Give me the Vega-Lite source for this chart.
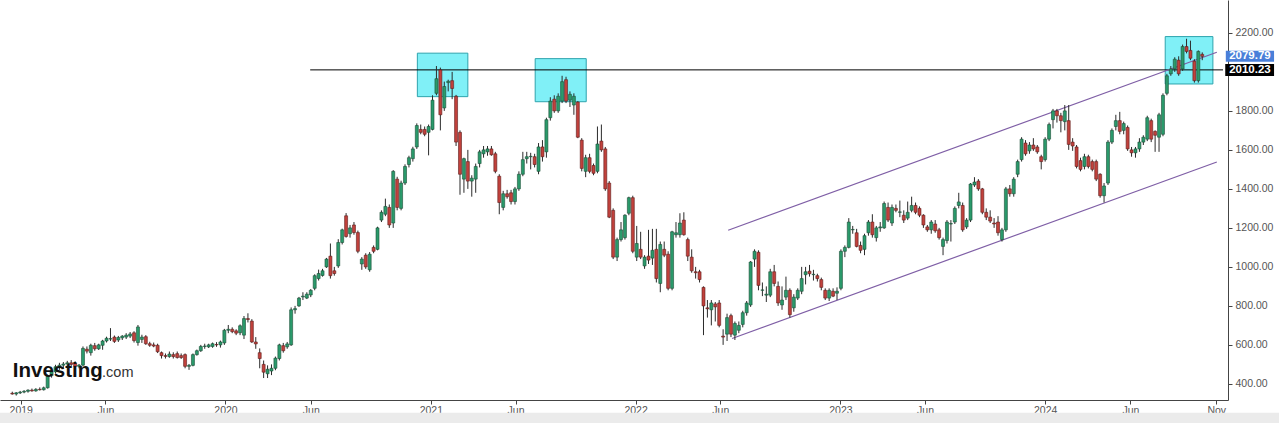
{
"$schema":"https://vega.github.io/schema/vega-lite/v6.json",
"width":1228,"height":400,"padding":{"left":0,"top":0,"right":51,"bottom":23},"autosize":{"type":"none"},"background":"white",
"config":{"view":{"stroke":null},"font":"Liberation Sans","axis":{"grid":false,"zindex":1,"labelFont":"Liberation Sans","labelFontSize":10.5,"labelColor":"#555","domainColor":"#444","tickColor":"#444","tickSize":4,"labelPadding":3,"labelOverlap":false},"axisX":{"labelPadding":1}},
"datasets":{
"candles":[
{"d":"2018-12-17","o":352,"h":360,"l":345,"c":348},
{"d":"2018-12-24","o":348,"h":358,"l":340,"c":354},
{"d":"2018-12-31","o":354,"h":364,"l":348,"c":358},
{"d":"2019-01-07","o":358,"h":368,"l":352,"c":362},
{"d":"2019-01-14","o":362,"h":372,"l":355,"c":368},
{"d":"2019-01-21","o":368,"h":376,"l":360,"c":364},
{"d":"2019-01-28","o":364,"h":378,"l":360,"c":372},
{"d":"2019-02-04","o":372,"h":382,"l":366,"c":370},
{"d":"2019-02-11","o":370,"h":386,"l":366,"c":380},
{"d":"2019-02-18","o":380,"h":448,"l":376,"c":442},
{"d":"2019-02-25","o":442,"h":472,"l":432,"c":462},
{"d":"2019-03-04","o":462,"h":498,"l":452,"c":488},
{"d":"2019-03-11","o":488,"h":508,"l":472,"c":496},
{"d":"2019-03-18","o":496,"h":512,"l":480,"c":502},
{"d":"2019-03-25","o":502,"h":518,"l":486,"c":508},
{"d":"2019-04-01","o":508,"h":522,"l":492,"c":500},
{"d":"2019-04-08","o":506,"h":516,"l":482,"c":490},
{"d":"2019-04-15","o":490,"h":502,"l":480,"c":496},
{"d":"2019-04-22","o":496,"h":592,"l":490,"c":582},
{"d":"2019-04-29","o":578,"h":592,"l":556,"c":568},
{"d":"2019-05-06","o":560,"h":606,"l":545,"c":598},
{"d":"2019-05-13","o":596,"h":610,"l":570,"c":580},
{"d":"2019-05-20","o":580,"h":606,"l":574,"c":600},
{"d":"2019-05-27","o":598,"h":626,"l":575,"c":620},
{"d":"2019-06-03","o":620,"h":642,"l":612,"c":634},
{"d":"2019-06-10","o":630,"h":686,"l":620,"c":632},
{"d":"2019-06-17","o":640,"h":648,"l":610,"c":618},
{"d":"2019-06-24","o":625,"h":646,"l":615,"c":638},
{"d":"2019-07-01","o":636,"h":650,"l":625,"c":645},
{"d":"2019-07-08","o":640,"h":660,"l":630,"c":650},
{"d":"2019-07-15","o":645,"h":666,"l":635,"c":656},
{"d":"2019-07-22","o":662,"h":670,"l":612,"c":622},
{"d":"2019-07-29","o":612,"h":702,"l":596,"c":692},
{"d":"2019-08-05","o":628,"h":652,"l":610,"c":640},
{"d":"2019-08-12","o":642,"h":650,"l":600,"c":606},
{"d":"2019-08-19","o":606,"h":616,"l":590,"c":598},
{"d":"2019-08-26","o":600,"h":612,"l":588,"c":594},
{"d":"2019-09-02","o":598,"h":606,"l":558,"c":565},
{"d":"2019-09-09","o":560,"h":566,"l":530,"c":545},
{"d":"2019-09-16","o":545,"h":556,"l":530,"c":541},
{"d":"2019-09-23","o":540,"h":566,"l":534,"c":553},
{"d":"2019-09-30","o":550,"h":562,"l":530,"c":540},
{"d":"2019-10-07","o":555,"h":566,"l":530,"c":535},
{"d":"2019-10-14","o":545,"h":556,"l":528,"c":535},
{"d":"2019-10-21","o":550,"h":556,"l":480,"c":490},
{"d":"2019-10-28","o":490,"h":502,"l":472,"c":495},
{"d":"2019-11-04","o":495,"h":556,"l":490,"c":550},
{"d":"2019-11-11","o":550,"h":576,"l":545,"c":570},
{"d":"2019-11-18","o":570,"h":600,"l":564,"c":592},
{"d":"2019-11-25","o":592,"h":606,"l":580,"c":594},
{"d":"2019-12-02","o":590,"h":606,"l":584,"c":600},
{"d":"2019-12-09","o":592,"h":612,"l":585,"c":606},
{"d":"2019-12-16","o":602,"h":614,"l":590,"c":600},
{"d":"2019-12-23","o":600,"h":622,"l":586,"c":615},
{"d":"2019-12-30","o":610,"h":682,"l":600,"c":675},
{"d":"2020-01-06","o":675,"h":702,"l":660,"c":680},
{"d":"2020-01-13","o":680,"h":690,"l":660,"c":668},
{"d":"2020-01-20","o":672,"h":680,"l":650,"c":660},
{"d":"2020-01-27","o":662,"h":705,"l":650,"c":698},
{"d":"2020-02-03","o":650,"h":748,"l":630,"c":735},
{"d":"2020-02-10","o":735,"h":762,"l":715,"c":730},
{"d":"2020-02-17","o":722,"h":732,"l":610,"c":615},
{"d":"2020-02-24","o":615,"h":640,"l":580,"c":605},
{"d":"2020-03-02","o":560,"h":582,"l":480,"c":530},
{"d":"2020-03-09","o":500,"h":520,"l":430,"c":460},
{"d":"2020-03-16","o":452,"h":495,"l":430,"c":475},
{"d":"2020-03-23","o":466,"h":500,"l":445,"c":480},
{"d":"2020-03-30","o":480,"h":540,"l":470,"c":532},
{"d":"2020-04-06","o":530,"h":606,"l":520,"c":600},
{"d":"2020-04-13","o":596,"h":610,"l":560,"c":570},
{"d":"2020-04-20","o":590,"h":615,"l":580,"c":605},
{"d":"2020-04-27","o":600,"h":792,"l":595,"c":780},
{"d":"2020-05-04","o":780,"h":800,"l":760,"c":786},
{"d":"2020-05-11","o":800,"h":846,"l":795,"c":840},
{"d":"2020-05-18","o":846,"h":870,"l":830,"c":850},
{"d":"2020-05-25","o":840,"h":870,"l":835,"c":860},
{"d":"2020-06-01","o":856,"h":886,"l":845,"c":880},
{"d":"2020-06-08","o":890,"h":962,"l":880,"c":955},
{"d":"2020-06-15","o":940,"h":986,"l":930,"c":966},
{"d":"2020-06-22","o":956,"h":990,"l":950,"c":980},
{"d":"2020-06-29","o":1000,"h":1046,"l":995,"c":1040},
{"d":"2020-07-06","o":1055,"h":1120,"l":940,"c":955},
{"d":"2020-07-13","o":980,"h":1000,"l":955,"c":966},
{"d":"2020-07-20","o":1005,"h":1142,"l":995,"c":1125},
{"d":"2020-07-27","o":1125,"h":1196,"l":1115,"c":1190},
{"d":"2020-08-03","o":1262,"h":1276,"l":1150,"c":1156},
{"d":"2020-08-10","o":1170,"h":1215,"l":1150,"c":1200},
{"d":"2020-08-17","o":1215,"h":1230,"l":1165,"c":1176},
{"d":"2020-08-24","o":1176,"h":1186,"l":1070,"c":1080},
{"d":"2020-08-31","o":1015,"h":1050,"l":985,"c":1040},
{"d":"2020-09-07","o":1060,"h":1070,"l":990,"c":1000},
{"d":"2020-09-14","o":985,"h":1076,"l":975,"c":1065},
{"d":"2020-09-21","o":1100,"h":1110,"l":1070,"c":1080},
{"d":"2020-09-28","o":1090,"h":1206,"l":1085,"c":1200},
{"d":"2020-10-05","o":1240,"h":1290,"l":1230,"c":1280},
{"d":"2020-10-12","o":1270,"h":1350,"l":1260,"c":1310},
{"d":"2020-10-19","o":1305,"h":1320,"l":1200,"c":1215},
{"d":"2020-10-26","o":1225,"h":1496,"l":1200,"c":1490},
{"d":"2020-11-02","o":1450,"h":1462,"l":1290,"c":1305},
{"d":"2020-11-09","o":1300,"h":1442,"l":1290,"c":1430},
{"d":"2020-11-16","o":1430,"h":1526,"l":1420,"c":1515},
{"d":"2020-11-23","o":1525,"h":1570,"l":1510,"c":1560},
{"d":"2020-11-30","o":1555,"h":1616,"l":1540,"c":1605},
{"d":"2020-12-07","o":1615,"h":1736,"l":1605,"c":1725},
{"d":"2020-12-14","o":1705,"h":1730,"l":1680,"c":1690},
{"d":"2020-12-21","o":1705,"h":1720,"l":1670,"c":1680},
{"d":"2020-12-28","o":1690,"h":1730,"l":1572,"c":1720},
{"d":"2021-01-04","o":1705,"h":1880,"l":1700,"c":1855},
{"d":"2021-01-11","o":1890,"h":2030,"l":1880,"c":1965},
{"d":"2021-01-18","o":2010,"h":2022,"l":1700,"c":1780},
{"d":"2021-01-25","o":1815,"h":1950,"l":1800,"c":1925},
{"d":"2021-02-01","o":1945,"h":1960,"l":1900,"c":1952},
{"d":"2021-02-08","o":1955,"h":2000,"l":1860,"c":1915},
{"d":"2021-02-15","o":1875,"h":1882,"l":1620,"c":1640},
{"d":"2021-02-22","o":1690,"h":1700,"l":1370,"c":1475},
{"d":"2021-03-01","o":1450,"h":1560,"l":1380,"c":1555},
{"d":"2021-03-08","o":1540,"h":1600,"l":1400,"c":1440},
{"d":"2021-03-15","o":1440,"h":1470,"l":1360,"c":1455},
{"d":"2021-03-22","o":1450,"h":1530,"l":1380,"c":1515},
{"d":"2021-03-29","o":1530,"h":1600,"l":1510,"c":1590},
{"d":"2021-04-05","o":1580,"h":1620,"l":1560,"c":1600},
{"d":"2021-04-12","o":1590,"h":1620,"l":1570,"c":1605},
{"d":"2021-04-19","o":1605,"h":1620,"l":1570,"c":1575},
{"d":"2021-04-26","o":1580,"h":1590,"l":1480,"c":1490},
{"d":"2021-05-03","o":1465,"h":1475,"l":1270,"c":1330},
{"d":"2021-05-10","o":1305,"h":1390,"l":1290,"c":1375},
{"d":"2021-05-17","o":1375,"h":1395,"l":1350,"c":1360},
{"d":"2021-05-24","o":1380,"h":1395,"l":1320,"c":1335},
{"d":"2021-05-31","o":1335,"h":1410,"l":1320,"c":1400},
{"d":"2021-06-07","o":1400,"h":1490,"l":1390,"c":1475},
{"d":"2021-06-14","o":1475,"h":1590,"l":1465,"c":1550},
{"d":"2021-06-21","o":1555,"h":1590,"l":1530,"c":1565},
{"d":"2021-06-28","o":1565,"h":1585,"l":1500,"c":1567},
{"d":"2021-07-05","o":1565,"h":1580,"l":1510,"c":1525},
{"d":"2021-07-12","o":1490,"h":1635,"l":1475,"c":1615},
{"d":"2021-07-19","o":1615,"h":1650,"l":1540,"c":1565},
{"d":"2021-07-26","o":1590,"h":1765,"l":1560,"c":1755},
{"d":"2021-08-02","o":1765,"h":1870,"l":1750,"c":1850},
{"d":"2021-08-09","o":1860,"h":1880,"l":1790,"c":1800},
{"d":"2021-08-16","o":1800,"h":1890,"l":1790,"c":1875},
{"d":"2021-08-23","o":1850,"h":1980,"l":1840,"c":1950},
{"d":"2021-08-30","o":1960,"h":1975,"l":1840,"c":1850},
{"d":"2021-09-06","o":1855,"h":1900,"l":1820,"c":1885},
{"d":"2021-09-13","o":1830,"h":1890,"l":1780,"c":1875},
{"d":"2021-09-20","o":1845,"h":1850,"l":1660,"c":1665},
{"d":"2021-09-27","o":1650,"h":1660,"l":1490,"c":1505},
{"d":"2021-10-04","o":1490,"h":1575,"l":1460,"c":1560},
{"d":"2021-10-11","o":1560,"h":1580,"l":1480,"c":1490},
{"d":"2021-10-18","o":1520,"h":1530,"l":1470,"c":1480},
{"d":"2021-10-25","o":1490,"h":1720,"l":1480,"c":1630},
{"d":"2021-11-01","o":1645,"h":1730,"l":1590,"c":1600},
{"d":"2021-11-08","o":1605,"h":1615,"l":1390,"c":1400},
{"d":"2021-11-15","o":1430,"h":1440,"l":1250,"c":1255},
{"d":"2021-11-22","o":1290,"h":1300,"l":1040,"c":1050},
{"d":"2021-11-29","o":1050,"h":1150,"l":1030,"c":1140},
{"d":"2021-12-06","o":1140,"h":1230,"l":1130,"c":1190},
{"d":"2021-12-13","o":1150,"h":1270,"l":1140,"c":1265},
{"d":"2021-12-20","o":1275,"h":1360,"l":1265,"c":1355},
{"d":"2021-12-27","o":1355,"h":1365,"l":1070,"c":1080},
{"d":"2022-01-03","o":1050,"h":1210,"l":1030,"c":1120},
{"d":"2022-01-10","o":1090,"h":1180,"l":1040,"c":1050},
{"d":"2022-01-17","o":1005,"h":1060,"l":990,"c":1050},
{"d":"2022-01-24","o":1055,"h":1190,"l":1015,"c":1035},
{"d":"2022-01-31","o":1045,"h":1195,"l":1010,"c":1085},
{"d":"2022-02-07","o":1090,"h":1195,"l":920,"c":940},
{"d":"2022-02-14","o":915,"h":1130,"l":870,"c":1115},
{"d":"2022-02-21","o":1090,"h":1130,"l":1050,"c":1060},
{"d":"2022-02-28","o":1065,"h":1080,"l":880,"c":890},
{"d":"2022-03-07","o":890,"h":1185,"l":880,"c":1180},
{"d":"2022-03-14","o":1165,"h":1230,"l":1150,"c":1175},
{"d":"2022-03-21","o":1165,"h":1275,"l":1150,"c":1225},
{"d":"2022-03-28","o":1240,"h":1280,"l":1160,"c":1165},
{"d":"2022-04-04","o":1140,"h":1150,"l":1030,"c":1055},
{"d":"2022-04-11","o":1050,"h":1090,"l":970,"c":980},
{"d":"2022-04-18","o":975,"h":1000,"l":940,"c":970},
{"d":"2022-04-25","o":975,"h":985,"l":920,"c":935},
{"d":"2022-05-02","o":895,"h":900,"l":650,"c":800},
{"d":"2022-05-09","o":790,"h":830,"l":740,"c":785},
{"d":"2022-05-16","o":780,"h":830,"l":700,"c":815},
{"d":"2022-05-23","o":810,"h":820,"l":720,"c":795},
{"d":"2022-05-30","o":815,"h":830,"l":690,"c":700},
{"d":"2022-06-06","o":645,"h":680,"l":600,"c":640},
{"d":"2022-06-13","o":655,"h":760,"l":620,"c":740},
{"d":"2022-06-20","o":750,"h":760,"l":640,"c":655},
{"d":"2022-06-27","o":650,"h":720,"l":625,"c":710},
{"d":"2022-07-04","o":675,"h":720,"l":660,"c":700},
{"d":"2022-07-11","o":705,"h":775,"l":690,"c":765},
{"d":"2022-07-18","o":765,"h":825,"l":750,"c":815},
{"d":"2022-07-25","o":805,"h":1030,"l":795,"c":1025},
{"d":"2022-08-01","o":1040,"h":1090,"l":1000,"c":1080},
{"d":"2022-08-08","o":1075,"h":1085,"l":880,"c":905},
{"d":"2022-08-15","o":880,"h":920,"l":850,"c":882},
{"d":"2022-08-22","o":855,"h":900,"l":820,"c":860},
{"d":"2022-08-29","o":855,"h":990,"l":845,"c":975},
{"d":"2022-09-05","o":975,"h":1010,"l":900,"c":915},
{"d":"2022-09-12","o":900,"h":925,"l":800,"c":815},
{"d":"2022-09-19","o":805,"h":900,"l":780,"c":830},
{"d":"2022-09-26","o":845,"h":950,"l":830,"c":880},
{"d":"2022-10-03","o":880,"h":890,"l":740,"c":755},
{"d":"2022-10-10","o":790,"h":860,"l":770,"c":845},
{"d":"2022-10-17","o":840,"h":890,"l":830,"c":880},
{"d":"2022-10-24","o":875,"h":1000,"l":860,"c":940},
{"d":"2022-10-31","o":960,"h":1000,"l":910,"c":975},
{"d":"2022-11-07","o":978,"h":1010,"l":950,"c":965},
{"d":"2022-11-14","o":960,"h":985,"l":930,"c":962},
{"d":"2022-11-21","o":955,"h":965,"l":925,"c":940},
{"d":"2022-11-28","o":935,"h":945,"l":880,"c":895},
{"d":"2022-12-05","o":880,"h":890,"l":830,"c":840},
{"d":"2022-12-12","o":840,"h":890,"l":825,"c":880},
{"d":"2022-12-19","o":875,"h":890,"l":845,"c":850},
{"d":"2022-12-26","o":865,"h":895,"l":830,"c":875},
{"d":"2023-01-02","o":890,"h":1090,"l":880,"c":1080},
{"d":"2023-01-09","o":1080,"h":1110,"l":1050,"c":1100},
{"d":"2023-01-16","o":1100,"h":1250,"l":1095,"c":1230},
{"d":"2023-01-23","o":1190,"h":1210,"l":1170,"c":1192},
{"d":"2023-01-30","o":1175,"h":1195,"l":1100,"c":1105},
{"d":"2023-02-06","o":1110,"h":1130,"l":1070,"c":1085},
{"d":"2023-02-13","o":1090,"h":1170,"l":1060,"c":1160},
{"d":"2023-02-20","o":1175,"h":1240,"l":1160,"c":1230},
{"d":"2023-02-27","o":1230,"h":1270,"l":1150,"c":1165},
{"d":"2023-03-06","o":1150,"h":1210,"l":1130,"c":1200},
{"d":"2023-03-13","o":1200,"h":1230,"l":1180,"c":1205},
{"d":"2023-03-20","o":1200,"h":1335,"l":1195,"c":1325},
{"d":"2023-03-27","o":1305,"h":1330,"l":1230,"c":1240},
{"d":"2023-04-03","o":1225,"h":1320,"l":1210,"c":1305},
{"d":"2023-04-10","o":1300,"h":1320,"l":1280,"c":1290},
{"d":"2023-04-17","o":1280,"h":1340,"l":1255,"c":1282},
{"d":"2023-04-24","o":1265,"h":1290,"l":1225,"c":1240},
{"d":"2023-05-01","o":1250,"h":1335,"l":1240,"c":1280},
{"d":"2023-05-08","o":1290,"h":1360,"l":1280,"c":1315},
{"d":"2023-05-15","o":1315,"h":1330,"l":1270,"c":1280},
{"d":"2023-05-22","o":1300,"h":1310,"l":1255,"c":1265},
{"d":"2023-05-29","o":1265,"h":1270,"l":1200,"c":1215},
{"d":"2023-06-05","o":1205,"h":1215,"l":1180,"c":1190},
{"d":"2023-06-12","o":1190,"h":1240,"l":1170,"c":1230},
{"d":"2023-06-19","o":1220,"h":1240,"l":1175,"c":1185},
{"d":"2023-06-26","o":1190,"h":1200,"l":1140,"c":1150},
{"d":"2023-07-03","o":1105,"h":1150,"l":1060,"c":1140},
{"d":"2023-07-10","o":1135,"h":1240,"l":1120,"c":1230},
{"d":"2023-07-17","o":1220,"h":1240,"l":1130,"c":1222},
{"d":"2023-07-24","o":1230,"h":1310,"l":1220,"c":1300},
{"d":"2023-07-31","o":1315,"h":1380,"l":1300,"c":1333},
{"d":"2023-08-07","o":1315,"h":1330,"l":1180,"c":1190},
{"d":"2023-08-14","o":1205,"h":1250,"l":1195,"c":1240},
{"d":"2023-08-21","o":1240,"h":1430,"l":1230,"c":1425},
{"d":"2023-08-28","o":1420,"h":1460,"l":1410,"c":1435},
{"d":"2023-09-04","o":1440,"h":1450,"l":1390,"c":1400},
{"d":"2023-09-11","o":1400,"h":1405,"l":1270,"c":1280},
{"d":"2023-09-18","o":1280,"h":1300,"l":1240,"c":1255},
{"d":"2023-09-25","o":1255,"h":1290,"l":1225,"c":1235},
{"d":"2023-10-02","o":1225,"h":1250,"l":1200,"c":1220},
{"d":"2023-10-09","o":1230,"h":1260,"l":1160,"c":1175},
{"d":"2023-10-16","o":1140,"h":1200,"l":1130,"c":1190},
{"d":"2023-10-23","o":1190,"h":1410,"l":1180,"c":1400},
{"d":"2023-10-30","o":1400,"h":1420,"l":1360,"c":1375},
{"d":"2023-11-06","o":1375,"h":1460,"l":1360,"c":1450},
{"d":"2023-11-13","o":1475,"h":1550,"l":1460,"c":1540},
{"d":"2023-11-20","o":1550,"h":1665,"l":1540,"c":1655},
{"d":"2023-11-27","o":1635,"h":1650,"l":1570,"c":1580},
{"d":"2023-12-04","o":1595,"h":1640,"l":1580,"c":1625},
{"d":"2023-12-11","o":1625,"h":1660,"l":1595,"c":1605},
{"d":"2023-12-18","o":1615,"h":1625,"l":1580,"c":1590},
{"d":"2023-12-25","o":1565,"h":1575,"l":1500,"c":1540},
{"d":"2024-01-01","o":1550,"h":1665,"l":1540,"c":1655},
{"d":"2024-01-08","o":1655,"h":1740,"l":1645,"c":1730},
{"d":"2024-01-15","o":1755,"h":1810,"l":1710,"c":1800},
{"d":"2024-01-22","o":1800,"h":1810,"l":1740,"c":1775},
{"d":"2024-01-29","o":1775,"h":1790,"l":1690,"c":1750},
{"d":"2024-02-05","o":1745,"h":1830,"l":1700,"c":1800},
{"d":"2024-02-12","o":1750,"h":1830,"l":1600,"c":1628},
{"d":"2024-02-19","o":1640,"h":1660,"l":1595,"c":1620},
{"d":"2024-02-26","o":1615,"h":1625,"l":1505,"c":1515},
{"d":"2024-03-04","o":1545,"h":1560,"l":1490,"c":1500},
{"d":"2024-03-11","o":1515,"h":1580,"l":1500,"c":1565},
{"d":"2024-03-18","o":1565,"h":1575,"l":1505,"c":1515},
{"d":"2024-03-25","o":1540,"h":1550,"l":1490,"c":1500},
{"d":"2024-04-01","o":1540,"h":1550,"l":1440,"c":1450},
{"d":"2024-04-08","o":1475,"h":1480,"l":1355,"c":1365},
{"d":"2024-04-15","o":1365,"h":1430,"l":1330,"c":1415},
{"d":"2024-04-22","o":1430,"h":1650,"l":1420,"c":1640},
{"d":"2024-04-29","o":1640,"h":1710,"l":1630,"c":1700},
{"d":"2024-05-06","o":1720,"h":1780,"l":1700,"c":1750},
{"d":"2024-05-13","o":1750,"h":1795,"l":1680,"c":1695},
{"d":"2024-05-20","o":1700,"h":1745,"l":1680,"c":1735},
{"d":"2024-05-27","o":1715,"h":1725,"l":1595,"c":1605},
{"d":"2024-06-03","o":1600,"h":1615,"l":1565,"c":1585},
{"d":"2024-06-10","o":1585,"h":1615,"l":1560,"c":1605},
{"d":"2024-06-17","o":1605,"h":1660,"l":1590,"c":1640},
{"d":"2024-06-24","o":1640,"h":1675,"l":1625,"c":1665},
{"d":"2024-07-01","o":1655,"h":1775,"l":1645,"c":1765},
{"d":"2024-07-08","o":1750,"h":1760,"l":1640,"c":1655},
{"d":"2024-07-15","o":1695,"h":1700,"l":1590,"c":1675},
{"d":"2024-07-22","o":1665,"h":1790,"l":1590,"c":1780},
{"d":"2024-07-29","o":1680,"h":1890,"l":1670,"c":1880},
{"d":"2024-08-05","o":1890,"h":1990,"l":1880,"c":1980},
{"d":"2024-08-12","o":1990,"h":2030,"l":1980,"c":2015},
{"d":"2024-08-19","o":2015,"h":2075,"l":2000,"c":2065},
{"d":"2024-08-26","o":2060,"h":2080,"l":1980,"c":1990},
{"d":"2024-09-02","o":2015,"h":2140,"l":2005,"c":2130},
{"d":"2024-09-09","o":2130,"h":2170,"l":2095,"c":2105},
{"d":"2024-09-16","o":2110,"h":2160,"l":2060,"c":2070},
{"d":"2024-09-23","o":2055,"h":2065,"l":1945,"c":1955},
{"d":"2024-09-30","o":1955,"h":2110,"l":1945,"c":2105},
{"d":"2024-10-07","o":2090,"h":2100,"l":2060,"c":2079.79}
],
"boxes":[
{"d1":"2020-12-08","d2":"2021-03-08","v1":1873,"v2":2096},
{"d1":"2021-07-06","d2":"2021-10-05","v1":1847,"v2":2068},
{"d1":"2024-08-02","d2":"2024-10-26","v1":1938,"v2":2181}
],
"level":[{"d1":"2020-05-31","d2":"2024-11-13","v":2010.23}],
"channel":[
{"id":"upper","d":"2022-06-15","v":1188},
{"id":"upper","d":"2024-11-02","v":2101},
{"id":"lower","d":"2022-06-22","v":633},
{"id":"lower","d":"2024-11-02","v":1538}
]
},
"layer":[
{"data":{"values":[{}]},"mark":{"type":"rect","color":"#ebebeb","clip":false},
 "encoding":{
  "x":{"datum":{"year":2018,"month":11,"date":1,"utc":true},"type":"temporal","scale":{"type":"utc","domain":[{"year":2018,"month":12,"date":4,"utc":true},{"year":2024,"month":11,"date":13,"utc":true}],"nice":false},"axis":{"title":null,"values":[{"year":2019,"month":1,"date":1,"utc":true},{"year":2019,"month":6,"date":1,"utc":true},{"year":2020,"month":1,"date":1,"utc":true},{"year":2020,"month":6,"date":1,"utc":true},{"year":2021,"month":1,"date":1,"utc":true},{"year":2021,"month":6,"date":1,"utc":true},{"year":2022,"month":1,"date":1,"utc":true},{"year":2022,"month":6,"date":1,"utc":true},{"year":2023,"month":1,"date":1,"utc":true},{"year":2023,"month":6,"date":1,"utc":true},{"year":2024,"month":1,"date":1,"utc":true},{"year":2024,"month":6,"date":1,"utc":true},{"year":2024,"month":11,"date":1,"utc":true}],"labelExpr":"utcFormat(datum.value,'%m')=='01' ? utcFormat(datum.value,'%Y') : utcFormat(datum.value,'%b')"}},
  "x2":{"datum":{"year":2025,"month":3,"date":1,"utc":true}},
  "y":{"datum":252,"type":"quantitative","scale":{"domain":[343,2343],"nice":false,"zero":false},"axis":{"title":null,"orient":"right","values":[400,600,800,1000,1200,1400,1600,1800,2200],"format":".2f"}},
  "y2":{"datum":200}
 }},
{"data":{"name":"boxes"},"mark":{"type":"rect","fill":"#80f0f7","stroke":"#2ea3ad","strokeWidth":1},
 "encoding":{
  "x":{"field":"d1","type":"temporal","scale":{"type":"utc","domain":[{"year":2018,"month":12,"date":4,"utc":true},{"year":2024,"month":11,"date":13,"utc":true}],"nice":false},"axis":{"title":null,"values":[{"year":2019,"month":1,"date":1,"utc":true},{"year":2019,"month":6,"date":1,"utc":true},{"year":2020,"month":1,"date":1,"utc":true},{"year":2020,"month":6,"date":1,"utc":true},{"year":2021,"month":1,"date":1,"utc":true},{"year":2021,"month":6,"date":1,"utc":true},{"year":2022,"month":1,"date":1,"utc":true},{"year":2022,"month":6,"date":1,"utc":true},{"year":2023,"month":1,"date":1,"utc":true},{"year":2023,"month":6,"date":1,"utc":true},{"year":2024,"month":1,"date":1,"utc":true},{"year":2024,"month":6,"date":1,"utc":true},{"year":2024,"month":11,"date":1,"utc":true}],"labelExpr":"utcFormat(datum.value,'%m')=='01' ? utcFormat(datum.value,'%Y') : utcFormat(datum.value,'%b')"}},
  "x2":{"field":"d2"},
  "y":{"field":"v1","type":"quantitative","scale":{"domain":[343,2343],"nice":false,"zero":false},"axis":{"title":null,"orient":"right","values":[400,600,800,1000,1200,1400,1600,1800,2200],"format":".2f"}},
  "y2":{"field":"v2"}
 }},
{"data":{"name":"level"},"mark":{"type":"rule","color":"#000000","strokeWidth":1},
 "encoding":{
  "x":{"field":"d1","type":"temporal","scale":{"type":"utc","domain":[{"year":2018,"month":12,"date":4,"utc":true},{"year":2024,"month":11,"date":13,"utc":true}],"nice":false},"axis":{"title":null,"values":[{"year":2019,"month":1,"date":1,"utc":true},{"year":2019,"month":6,"date":1,"utc":true},{"year":2020,"month":1,"date":1,"utc":true},{"year":2020,"month":6,"date":1,"utc":true},{"year":2021,"month":1,"date":1,"utc":true},{"year":2021,"month":6,"date":1,"utc":true},{"year":2022,"month":1,"date":1,"utc":true},{"year":2022,"month":6,"date":1,"utc":true},{"year":2023,"month":1,"date":1,"utc":true},{"year":2023,"month":6,"date":1,"utc":true},{"year":2024,"month":1,"date":1,"utc":true},{"year":2024,"month":6,"date":1,"utc":true},{"year":2024,"month":11,"date":1,"utc":true}],"labelExpr":"utcFormat(datum.value,'%m')=='01' ? utcFormat(datum.value,'%Y') : utcFormat(datum.value,'%b')"}},
  "x2":{"field":"d2"},
  "y":{"field":"v","type":"quantitative","scale":{"domain":[343,2343],"nice":false,"zero":false},"axis":{"title":null,"orient":"right","values":[400,600,800,1000,1200,1400,1600,1800,2200],"format":".2f"}}
 }},
{"data":{"name":"channel"},"mark":{"type":"line","color":"#7f5fa6","strokeWidth":1.2},
 "encoding":{
  "x":{"field":"d","type":"temporal","scale":{"type":"utc","domain":[{"year":2018,"month":12,"date":4,"utc":true},{"year":2024,"month":11,"date":13,"utc":true}],"nice":false},"axis":{"title":null,"values":[{"year":2019,"month":1,"date":1,"utc":true},{"year":2019,"month":6,"date":1,"utc":true},{"year":2020,"month":1,"date":1,"utc":true},{"year":2020,"month":6,"date":1,"utc":true},{"year":2021,"month":1,"date":1,"utc":true},{"year":2021,"month":6,"date":1,"utc":true},{"year":2022,"month":1,"date":1,"utc":true},{"year":2022,"month":6,"date":1,"utc":true},{"year":2023,"month":1,"date":1,"utc":true},{"year":2023,"month":6,"date":1,"utc":true},{"year":2024,"month":1,"date":1,"utc":true},{"year":2024,"month":6,"date":1,"utc":true},{"year":2024,"month":11,"date":1,"utc":true}],"labelExpr":"utcFormat(datum.value,'%m')=='01' ? utcFormat(datum.value,'%Y') : utcFormat(datum.value,'%b')"}},
  "y":{"field":"v","type":"quantitative","scale":{"domain":[343,2343],"nice":false,"zero":false},"axis":{"title":null,"orient":"right","values":[400,600,800,1000,1200,1400,1600,1800,2200],"format":".2f"}},
  "detail":{"field":"id"}
 }},
{"data":{"name":"candles"},"mark":{"type":"rule","color":"#2b2b2b","strokeWidth":1,"clip":true},
 "encoding":{
  "x":{"field":"d","type":"temporal","scale":{"type":"utc","domain":[{"year":2018,"month":12,"date":4,"utc":true},{"year":2024,"month":11,"date":13,"utc":true}],"nice":false},"axis":{"title":null,"values":[{"year":2019,"month":1,"date":1,"utc":true},{"year":2019,"month":6,"date":1,"utc":true},{"year":2020,"month":1,"date":1,"utc":true},{"year":2020,"month":6,"date":1,"utc":true},{"year":2021,"month":1,"date":1,"utc":true},{"year":2021,"month":6,"date":1,"utc":true},{"year":2022,"month":1,"date":1,"utc":true},{"year":2022,"month":6,"date":1,"utc":true},{"year":2023,"month":1,"date":1,"utc":true},{"year":2023,"month":6,"date":1,"utc":true},{"year":2024,"month":1,"date":1,"utc":true},{"year":2024,"month":6,"date":1,"utc":true},{"year":2024,"month":11,"date":1,"utc":true}],"labelExpr":"utcFormat(datum.value,'%m')=='01' ? utcFormat(datum.value,'%Y') : utcFormat(datum.value,'%b')"}},
  "y":{"field":"l","type":"quantitative","scale":{"domain":[343,2343],"nice":false,"zero":false},"axis":{"title":null,"orient":"right","values":[400,600,800,1000,1200,1400,1600,1800,2200],"format":".2f"}},
  "y2":{"field":"h"}
 }},
{"data":{"name":"candles"},"mark":{"type":"bar","size":3,"strokeWidth":0.6,"clip":true},
 "encoding":{
  "x":{"field":"d","type":"temporal","scale":{"type":"utc","domain":[{"year":2018,"month":12,"date":4,"utc":true},{"year":2024,"month":11,"date":13,"utc":true}],"nice":false},"axis":{"title":null,"values":[{"year":2019,"month":1,"date":1,"utc":true},{"year":2019,"month":6,"date":1,"utc":true},{"year":2020,"month":1,"date":1,"utc":true},{"year":2020,"month":6,"date":1,"utc":true},{"year":2021,"month":1,"date":1,"utc":true},{"year":2021,"month":6,"date":1,"utc":true},{"year":2022,"month":1,"date":1,"utc":true},{"year":2022,"month":6,"date":1,"utc":true},{"year":2023,"month":1,"date":1,"utc":true},{"year":2023,"month":6,"date":1,"utc":true},{"year":2024,"month":1,"date":1,"utc":true},{"year":2024,"month":6,"date":1,"utc":true},{"year":2024,"month":11,"date":1,"utc":true}],"labelExpr":"utcFormat(datum.value,'%m')=='01' ? utcFormat(datum.value,'%Y') : utcFormat(datum.value,'%b')"}},
  "y":{"field":"o","type":"quantitative","scale":{"domain":[343,2343],"nice":false,"zero":false},"axis":{"title":null,"orient":"right","values":[400,600,800,1000,1200,1400,1600,1800,2200],"format":".2f"}},
  "y2":{"field":"c"},
  "fill":{"condition":{"test":"datum.c >= datum.o","value":"#2a9a6b"},"value":"#c1413c"},
  "stroke":{"condition":{"test":"datum.c >= datum.o","value":"#1b4d36"},"value":"#5e1d1b"}
 }},
{"data":{"values":[{"t":"Investing"}]},"mark":{"type":"text","align":"left","baseline":"alphabetic","font":"Liberation Sans","fontWeight":"bold","fontSize":20.5,"color":"#111111","clip":false},
 "encoding":{
  "x":{"datum":{"year":2018,"month":12,"date":18,"utc":true},"type":"temporal","scale":{"type":"utc","domain":[{"year":2018,"month":12,"date":4,"utc":true},{"year":2024,"month":11,"date":13,"utc":true}],"nice":false},"axis":{"title":null,"values":[{"year":2019,"month":1,"date":1,"utc":true},{"year":2019,"month":6,"date":1,"utc":true},{"year":2020,"month":1,"date":1,"utc":true},{"year":2020,"month":6,"date":1,"utc":true},{"year":2021,"month":1,"date":1,"utc":true},{"year":2021,"month":6,"date":1,"utc":true},{"year":2022,"month":1,"date":1,"utc":true},{"year":2022,"month":6,"date":1,"utc":true},{"year":2023,"month":1,"date":1,"utc":true},{"year":2023,"month":6,"date":1,"utc":true},{"year":2024,"month":1,"date":1,"utc":true},{"year":2024,"month":6,"date":1,"utc":true},{"year":2024,"month":11,"date":1,"utc":true}],"labelExpr":"utcFormat(datum.value,'%m')=='01' ? utcFormat(datum.value,'%Y') : utcFormat(datum.value,'%b')"}},
  "y":{"datum":433,"type":"quantitative","scale":{"domain":[343,2343],"nice":false,"zero":false},"axis":{"title":null,"orient":"right","values":[400,600,800,1000,1200,1400,1600,1800,2200],"format":".2f"}},
  "text":{"field":"t"}
 }},
{"data":{"values":[{"t":".com"}]},"mark":{"type":"text","align":"left","baseline":"alphabetic","font":"Liberation Sans","fontSize":14.5,"color":"#333333","clip":false},
 "encoding":{
  "x":{"datum":{"year":2019,"month":5,"date":26,"utc":true},"type":"temporal","scale":{"type":"utc","domain":[{"year":2018,"month":12,"date":4,"utc":true},{"year":2024,"month":11,"date":13,"utc":true}],"nice":false},"axis":{"title":null,"values":[{"year":2019,"month":1,"date":1,"utc":true},{"year":2019,"month":6,"date":1,"utc":true},{"year":2020,"month":1,"date":1,"utc":true},{"year":2020,"month":6,"date":1,"utc":true},{"year":2021,"month":1,"date":1,"utc":true},{"year":2021,"month":6,"date":1,"utc":true},{"year":2022,"month":1,"date":1,"utc":true},{"year":2022,"month":6,"date":1,"utc":true},{"year":2023,"month":1,"date":1,"utc":true},{"year":2023,"month":6,"date":1,"utc":true},{"year":2024,"month":1,"date":1,"utc":true},{"year":2024,"month":6,"date":1,"utc":true},{"year":2024,"month":11,"date":1,"utc":true}],"labelExpr":"utcFormat(datum.value,'%m')=='01' ? utcFormat(datum.value,'%Y') : utcFormat(datum.value,'%b')"}},
  "y":{"datum":433,"type":"quantitative","scale":{"domain":[343,2343],"nice":false,"zero":false},"axis":{"title":null,"orient":"right","values":[400,600,800,1000,1200,1400,1600,1800,2200],"format":".2f"}},
  "text":{"field":"t"}
 }},
{"data":{"values":[{"v":2079.79}]},"mark":{"type":"bar","size":11,"color":"#4a7fd9","clip":false},
 "encoding":{
  "x":{"datum":{"year":2024,"month":11,"date":18,"utc":true},"type":"temporal","scale":{"type":"utc","domain":[{"year":2018,"month":12,"date":4,"utc":true},{"year":2024,"month":11,"date":13,"utc":true}],"nice":false},"axis":{"title":null,"values":[{"year":2019,"month":1,"date":1,"utc":true},{"year":2019,"month":6,"date":1,"utc":true},{"year":2020,"month":1,"date":1,"utc":true},{"year":2020,"month":6,"date":1,"utc":true},{"year":2021,"month":1,"date":1,"utc":true},{"year":2021,"month":6,"date":1,"utc":true},{"year":2022,"month":1,"date":1,"utc":true},{"year":2022,"month":6,"date":1,"utc":true},{"year":2023,"month":1,"date":1,"utc":true},{"year":2023,"month":6,"date":1,"utc":true},{"year":2024,"month":1,"date":1,"utc":true},{"year":2024,"month":6,"date":1,"utc":true},{"year":2024,"month":11,"date":1,"utc":true}],"labelExpr":"utcFormat(datum.value,'%m')=='01' ? utcFormat(datum.value,'%Y') : utcFormat(datum.value,'%b')"}},
  "x2":{"datum":{"year":2025,"month":2,"date":12,"utc":true}},
  "y":{"field":"v","type":"quantitative","scale":{"domain":[343,2343],"nice":false,"zero":false},"axis":{"title":null,"orient":"right","values":[400,600,800,1000,1200,1400,1600,1800,2200],"format":".2f"}}
 }},
{"data":{"values":[{"v":2010.23}]},"mark":{"type":"bar","size":12,"color":"#000000","clip":false},
 "encoding":{
  "x":{"datum":{"year":2024,"month":11,"date":17,"utc":true},"type":"temporal","scale":{"type":"utc","domain":[{"year":2018,"month":12,"date":4,"utc":true},{"year":2024,"month":11,"date":13,"utc":true}],"nice":false},"axis":{"title":null,"values":[{"year":2019,"month":1,"date":1,"utc":true},{"year":2019,"month":6,"date":1,"utc":true},{"year":2020,"month":1,"date":1,"utc":true},{"year":2020,"month":6,"date":1,"utc":true},{"year":2021,"month":1,"date":1,"utc":true},{"year":2021,"month":6,"date":1,"utc":true},{"year":2022,"month":1,"date":1,"utc":true},{"year":2022,"month":6,"date":1,"utc":true},{"year":2023,"month":1,"date":1,"utc":true},{"year":2023,"month":6,"date":1,"utc":true},{"year":2024,"month":1,"date":1,"utc":true},{"year":2024,"month":6,"date":1,"utc":true},{"year":2024,"month":11,"date":1,"utc":true}],"labelExpr":"utcFormat(datum.value,'%m')=='01' ? utcFormat(datum.value,'%Y') : utcFormat(datum.value,'%b')"}},
  "x2":{"datum":{"year":2025,"month":2,"date":12,"utc":true}},
  "y":{"field":"v","type":"quantitative","scale":{"domain":[343,2343],"nice":false,"zero":false},"axis":{"title":null,"orient":"right","values":[400,600,800,1000,1200,1400,1600,1800,2200],"format":".2f"}}
 }},
{"data":{"values":[{"v":2079.79},{"v":2010.23}]},"mark":{"type":"text","align":"center","baseline":"middle","font":"Liberation Sans","fontWeight":"bold","fontSize":11.5,"color":"#ffffff","clip":false},
 "encoding":{
  "x":{"datum":{"year":2024,"month":12,"date":31,"utc":true},"type":"temporal","scale":{"type":"utc","domain":[{"year":2018,"month":12,"date":4,"utc":true},{"year":2024,"month":11,"date":13,"utc":true}],"nice":false},"axis":{"title":null,"values":[{"year":2019,"month":1,"date":1,"utc":true},{"year":2019,"month":6,"date":1,"utc":true},{"year":2020,"month":1,"date":1,"utc":true},{"year":2020,"month":6,"date":1,"utc":true},{"year":2021,"month":1,"date":1,"utc":true},{"year":2021,"month":6,"date":1,"utc":true},{"year":2022,"month":1,"date":1,"utc":true},{"year":2022,"month":6,"date":1,"utc":true},{"year":2023,"month":1,"date":1,"utc":true},{"year":2023,"month":6,"date":1,"utc":true},{"year":2024,"month":1,"date":1,"utc":true},{"year":2024,"month":6,"date":1,"utc":true},{"year":2024,"month":11,"date":1,"utc":true}],"labelExpr":"utcFormat(datum.value,'%m')=='01' ? utcFormat(datum.value,'%Y') : utcFormat(datum.value,'%b')"}},
  "y":{"field":"v","type":"quantitative","scale":{"domain":[343,2343],"nice":false,"zero":false},"axis":{"title":null,"orient":"right","values":[400,600,800,1000,1200,1400,1600,1800,2200],"format":".2f"}},
  "text":{"field":"v","type":"quantitative","format":".2f"}
 }}
]
}
